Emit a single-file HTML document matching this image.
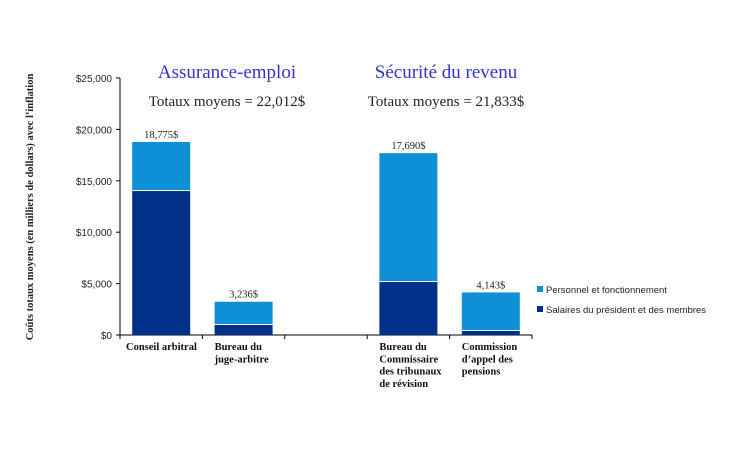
<!DOCTYPE html>
<html><head><meta charset="utf-8"><style>
body{margin:0;background:#fff}
svg{display:block}
.s{font-family:"Liberation Serif",serif}
</style></head><body>
<svg width="730" height="469" id="c">
<text class="s" x="227" y="78" font-size="19" fill="#3333cc" text-anchor="middle">Assurance-emploi</text>
<text class="s" x="446" y="78" font-size="19" fill="#3333cc" text-anchor="middle">Sécurité du revenu</text>
<text class="s" x="227" y="106" font-size="15" fill="#222" text-anchor="middle">Totaux moyens = 22,012$</text>
<text class="s" x="446" y="106" font-size="15" fill="#222" text-anchor="middle">Totaux moyens = 21,833$</text>
<text class="s" transform="translate(33,207) rotate(-90)" font-size="10.5" font-weight="bold" fill="#222" text-anchor="middle">Coûts totaux moyens (en milliers de dollars) avec l’inflation</text>
<g id="plot"></g>
<rect x="537" y="286" width="6" height="6" fill="#0f8fd6"/>
<text x="546" y="293" font-family="Liberation Sans,sans-serif" font-size="9.5" fill="#222">Personnel et fonctionnement</text>
<rect x="537" y="306" width="6" height="6" fill="#003087"/>
<text x="546" y="313" font-family="Liberation Sans,sans-serif" font-size="9.5" fill="#222">Salaires du président et des membres</text>
</svg>
<script>
const categories=[["Conseil arbitral"],["Bureau du","juge-arbitre"],null,["Bureau du","Commissaire","des tribunaux","de révision"],["Commission","d’appel des","pensions"]];
const salaires=[14100,1070,null,5250,490];
const totals=[18775,3236,null,17690,4143];
const totalLabels=["18,775$","3,236$",null,"17,690$","4,143$"];
const yTicks=[0,5000,10000,15000,20000,25000];
const yTickLabels=["$0","$5,000","$10,000","$15,000","$20,000","$25,000"];
const NS="http://www.w3.org/2000/svg";
const g=document.getElementById('plot');
const x0=120,x1=532,y0=335,yTop=78,yMax=25000;
const slot=(x1-x0)/categories.length;
const y=v=>y0-(v/yMax)*(y0-yTop);
function mk(t,a,txt){const e=document.createElementNS(NS,t);for(const k in a)e.setAttribute(k,a[k]);if(txt!=null)e.textContent=txt;g.appendChild(e);return e;}
let e=mk('line',{x1:x0,y1:yTop,x2:x0,y2:y0,stroke:'#000'});


e=mk('line',{x1:x0-4,y1:y0,x2:x1,y2:y0,stroke:'#000'});


yTicks.forEach((v,i)=>{
 e=mk('line',{x1:x0-4,y1:y(v),x2:x0,y2:y(v),stroke:'#000'});
 
 
 e=mk('text',{x:x0-8,y:y(v)+4,'font-family':'Liberation Sans,sans-serif','font-size':'10','text-anchor':'end',fill:'#222'},yTickLabels[i]);
 
 
});
for(let i=0;i<=categories.length;i++){
 e=mk('line',{x1:x0+i*slot,y1:y0,x2:x0+i*slot,y2:y0+4,stroke:'#000'});
 
 
}
categories.forEach((c,i)=>{
 if(!c)return;
 const cx=x0+slot*(i+0.5),bw=58,bx=cx-bw/2;
 e=mk('rect',{x:bx,y:y(totals[i]),width:bw,height:y(salaires[i])-y(totals[i]),fill:'#0f8fd6'});
 
 
 e=mk('rect',{x:bx,y:y(salaires[i])+1,width:bw,height:y0-y(salaires[i])-1,fill:'#003087'});
 
 
 e=mk('text',{class:'s',x:cx,y:y(totals[i])-4,'font-size':'10.5','text-anchor':'middle',fill:'#222'},totalLabels[i]);
 
 
 const lx=i==0?cx-29:bx;
 c.forEach((l,j)=>{
  e=mk('text',{class:'s',x:i==0?x0+6:bx,y:y0+15+j*12.3,'font-size':'10.5','font-weight':'bold',fill:'#111'},l);
  
  
 });
});
</script>
</body></html>
